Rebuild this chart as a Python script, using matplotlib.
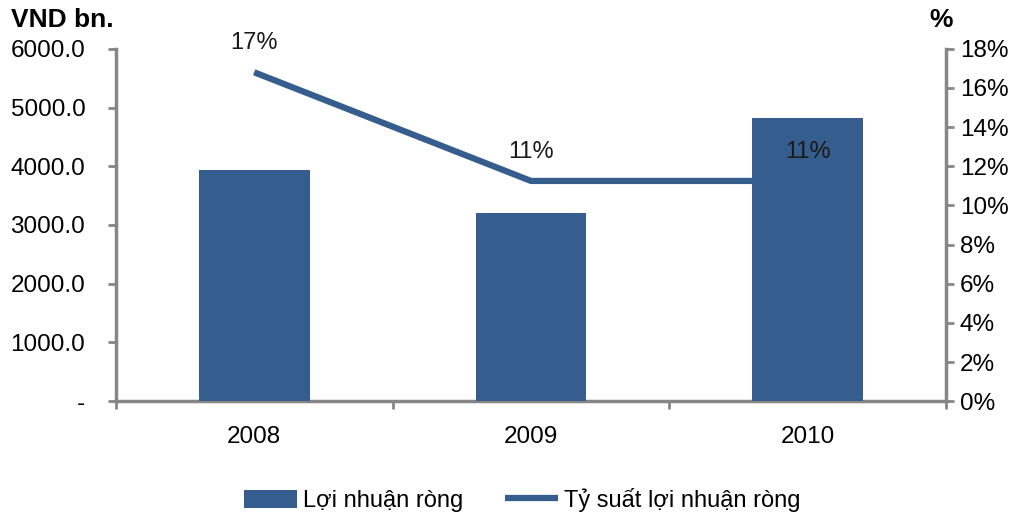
import matplotlib.pyplot as plt
import numpy as np

plt.rcParams['font.family'] = ['Liberation Sans', 'DejaVu Sans']

years = ['2008', '2009', '2010']
loi_nhuan = [3935, 3200, 4820]          # VND bn.
ty_suat = [16.8, 11.25, 11.25]          # %
ty_suat_labels = ['17%', '11%', '11%']

bar_color = '#355E8E'
axis_color = '#868686'

fig = plt.figure(figsize=(10.34, 5.19), dpi=100)
ax = fig.add_axes([0.112, 0.227, 0.803, 0.679])
ax2 = ax.twinx()

x = np.arange(len(years))

# line sits behind the bars
ax.set_zorder(ax2.get_zorder() + 1)
ax.patch.set_visible(False)

ax.bar(x, loi_nhuan, width=0.4, color=bar_color, label='Lợi nhuận ròng', zorder=3)
ax2.plot(x, ty_suat, color=bar_color, lw=4.5, solid_capstyle='butt',
         label='Tỷ suất lợi nhuận ròng')

for xi, v, s in zip(x, ty_suat, ty_suat_labels):
    ax.annotate(s, (xi, v), xycoords=ax2.transData, xytext=(0, 13),
                textcoords='offset points', ha='center', va='bottom',
                fontsize=17, color='#1a1a1a', zorder=5)

ax.set_xlim(-0.5, 2.5)
ax.set_ylim(0, 6000)
ax2.set_ylim(0, 18)

ax.set_yticks(np.arange(0, 6001, 1000))
ax.set_yticklabels(['-'] + [f'{v:.1f}' for v in np.arange(1000, 6001, 1000)])
ax2.set_yticks(np.arange(0, 19, 2))
ax2.set_yticklabels([f'{v}%' for v in range(0, 19, 2)])

ax.set_xticks(x)
ax.set_xticklabels(years)
ax.set_xticks([-0.5, 0.5, 1.5, 2.5], minor=True)
ax.tick_params(axis='x', which='major', length=0, pad=18, labelsize=17.5)
ax.tick_params(axis='x', which='minor', length=6, width=2, color=axis_color, direction='out')
ax.tick_params(axis='y', length=6, width=2, color=axis_color, labelsize=17.5, pad=16)
ax2.tick_params(axis='y', length=6, width=2, color=axis_color, labelsize=17.5, pad=4)

for a in (ax, ax2):
    a.spines['top'].set_visible(False)
    for side in ('left', 'right', 'bottom'):
        a.spines[side].set_color(axis_color)
        a.spines[side].set_linewidth(2.5)
ax.spines['right'].set_visible(False)
ax2.spines['left'].set_visible(False)
ax2.spines['bottom'].set_visible(False)

fig.text(0.011, 0.962, 'VND bn.', fontsize=19, fontweight='bold', va='center')
fig.text(0.899, 0.962, '%', fontsize=19, fontweight='bold', va='center')

h1, l1 = ax.get_legend_handles_labels()
h2, l2 = ax2.get_legend_handles_labels()
fig.legend(h1 + h2, l1 + l2, loc='center', bbox_to_anchor=(0.505, 0.037), ncol=2,
           frameon=False, fontsize=17, handlelength=2.25, handleheight=0.8,
           handletextpad=0.25, columnspacing=1.8)

fig.savefig('out.png', dpi=100)
